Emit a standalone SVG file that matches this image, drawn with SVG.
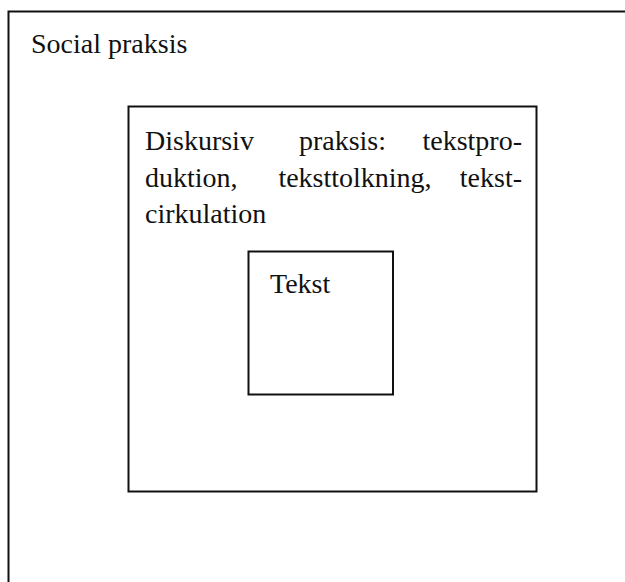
<svg xmlns="http://www.w3.org/2000/svg" width="625" height="582" viewBox="0 0 625 582">
<style>
.box{fill:none;stroke:#111;stroke-width:2}
.t{font-family:"Liberation Serif","Times New Roman",serif;font-size:28px;fill:#111}
</style>
<rect width="625" height="582" fill="#fff"/>
<g id="social">
<rect class="box" x="8.5" y="11.5" width="700" height="700"/>
<text class="t" x="31" y="53">Social praksis</text>
</g>
<g id="diskursiv">
<rect class="box" x="128.5" y="106.5" width="408" height="385"/>
<text class="t" x="145" y="150">Diskursiv</text>
<text class="t" x="342.5" y="150" text-anchor="middle">praksis:</text>
<text class="t" x="522" y="150" text-anchor="end">tekstpro-</text>
<text class="t" x="145" y="186.5">duktion,</text>
<text class="t" x="355" y="186.5" text-anchor="middle">teksttolkning,</text>
<text class="t" x="522" y="186.5" text-anchor="end">tekst-</text>
<text class="t" x="145" y="223">cirkulation</text>
</g>
<g id="tekst">
<rect class="box" x="248.5" y="251.5" width="144.5" height="143"/>
<text class="t" x="270" y="293">Tekst</text>
</g>
<g id="connectors"></g>
</svg>
